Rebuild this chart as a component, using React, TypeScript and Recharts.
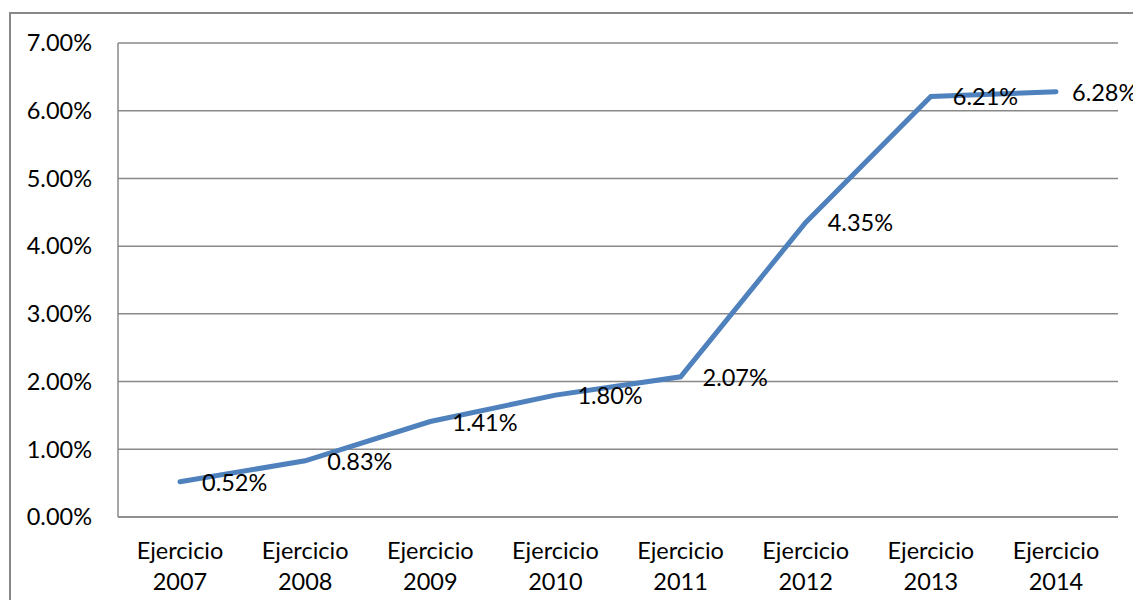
import React from "react";
import { LineChart, Line, XAxis, YAxis, CartesianGrid, LabelList } from "recharts";

const years = ["2007", "2008", "2009", "2010", "2011", "2012", "2013", "2014"];
const rates = [0.52, 0.83, 1.41, 1.8, 2.07, 4.35, 6.21, 6.28];
const yTicks = [0, 1, 2, 3, 4, 5, 6, 7];

const data = years.map((y, i) => ({ name: `Ejercicio ${y}`, year: y, rate: rates[i] }));

const FONT = "Lato, 'Liberation Sans', sans-serif";
const FS = 23.5;
const pct = (v: number) => `${v.toFixed(2)}%`;

function YearTick({ x, y, payload }: any) {
  const [word, year] = String(payload.value).split(" ");
  return (
    <text x={x} y={y} textAnchor="middle" fontFamily={FONT} fontSize={FS} fill="#000">
      <tspan x={x} dy={42}>{word}</tspan>
      <tspan x={x} dy={31}>{year}</tspan>
    </text>
  );
}

// value labels sit to the right of each point; the last one is pulled in so it stays inside the frame
function RateLabel({ x, y, value, index }: any) {
  const dx = index === years.length - 1 ? 16 : 22;
  return (
    <text x={x + dx} y={y} dominantBaseline="central" textAnchor="start" fontFamily={FONT} fontSize={FS} fill="#000">
      {pct(value)}
    </text>
  );
}

export default function App() {
  return (
    <div style={{ position: "relative", width: 1141, height: 608, margin: -8, background: "#fff", overflow: "hidden" }}>
      <div
        style={{
          position: "absolute",
          left: 9,
          top: 12,
          width: 1200,
          height: 700,
          border: "2px solid #888",
        }}
      />
      <LineChart
        width={1141}
        height={608}
        data={data}
        margin={{ top: 43, right: 23, bottom: 0, left: 18 }}
        style={{ position: "absolute", left: 0, top: 0, overflow: "visible" }}
      >
        <CartesianGrid horizontal vertical={false} stroke="#888" strokeWidth={1.5} />
        <XAxis
          dataKey="name"
          height={91}
          padding={{ left: 62, right: 62 }}
          axisLine={{ stroke: "#888", strokeWidth: 1.5 }}
          tickLine={false}
          tickSize={0}
          tickMargin={0}
          tick={<YearTick />}
          interval={0}
        />
        <YAxis
          width={100}
          domain={[0, 7]}
          ticks={yTicks}
          tickFormatter={pct}
          axisLine={{ stroke: "#888", strokeWidth: 1.5 }}
          tickLine={false}
          tickSize={0}
          tickMargin={26}
          tick={{ fontFamily: FONT, fontSize: FS, fill: "#000" }}
        />
        <Line
          type="linear"
          dataKey="rate"
          stroke="#4F81BD"
          strokeWidth={5}
          strokeLinecap="round"
          dot={false}
          isAnimationActive={false}
        >
          <LabelList dataKey="rate" content={<RateLabel />} />
        </Line>
      </LineChart>
    </div>
  );
}
